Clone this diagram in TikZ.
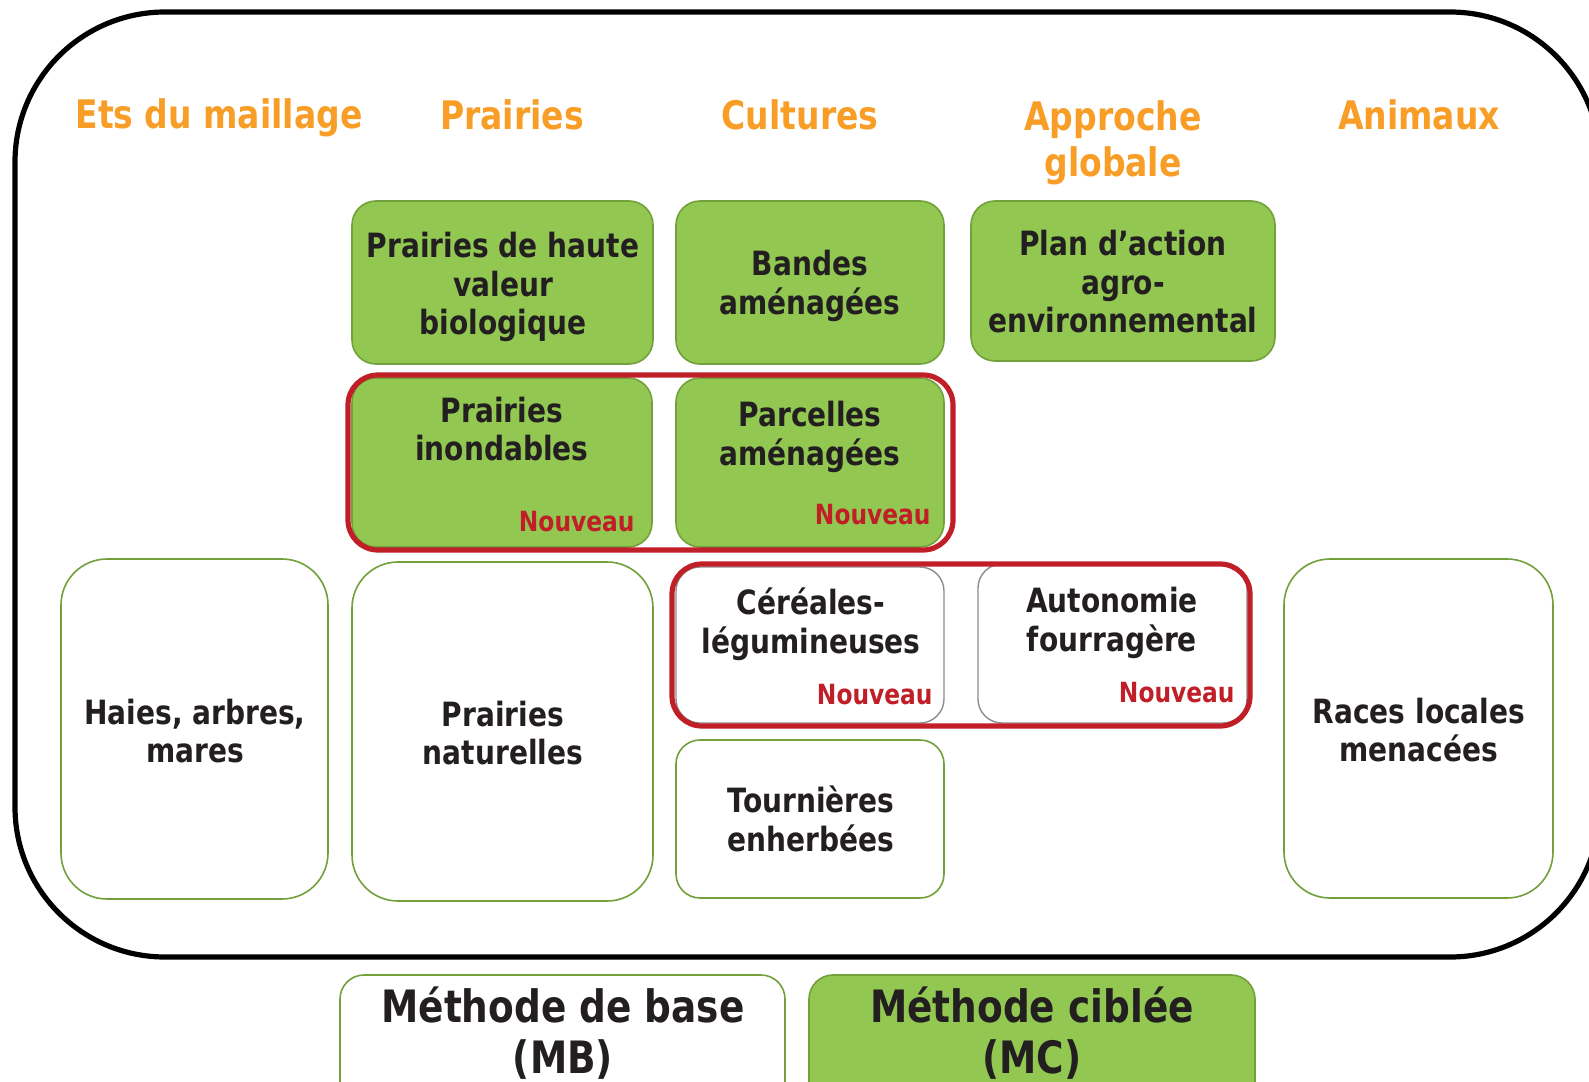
\documentclass[tikz,border=0pt]{standalone}
\usepackage{fontspec}
\setmainfont{DejaVu Sans}[FakeStretch=0.84]
\usetikzlibrary{fit}
\definecolor{gfill}{HTML}{92C852}
\definecolor{gline}{HTML}{72A03A}
\definecolor{org}{HTML}{F89D26}
\definecolor{nred}{HTML}{C01F28}
\definecolor{txt}{HTML}{231F20}
\definecolor{grayl}{HTML}{8C8C8C}
\tikzset{
  gbox/.style={draw=gline, fill=gfill, line width=0.8pt, rounded corners=12pt, inner sep=0pt},
  wbox/.style={draw=gline, fill=white, line width=0.8pt, rounded corners=12pt, inner sep=0pt},
  bigbox/.style={draw=gline, fill=white, line width=0.8pt, rounded corners=23pt, inner sep=0pt},
  graybox/.style={draw=grayl, fill=white, line width=0.7pt, rounded corners=12pt, inner sep=0pt},
  redbox/.style={draw=nred, line width=2.6pt, rounded corners=15pt, inner sep=0pt},
  hdr/.style={text=org, font=\bfseries\fontsize{19.65}{22.8}\selectfont, align=center, inner sep=0pt},
  lbl/.style={text=txt, font=\bfseries\fontsize{16.7}{19.25}\selectfont, align=center, inner sep=0pt},
  nv/.style={text=nred, font=\bfseries\fontsize{13.9}{16}\selectfont, anchor=east, inner sep=0pt},
  leg/.style={text=txt, font=\bfseries\fontsize{22.3}{25.5}\selectfont, align=center, inner sep=0pt},
}
\begin{document}
\begin{tikzpicture}[x=0.5pt,y=-0.5pt]
\useasboundingbox (0,0) rectangle (1589,1081);
\clip (0,0) rectangle (1589,1081);
\fill[white] (0,0) rectangle (1589,1081);
% outer frame
\node[fit={(15,12) (1600,957)}, draw=black, line width=2.6pt, rounded corners=75pt, inner sep=0pt] (outer) {};
% headers
\node[hdr] (h1) at (219,118) {Ets du maillage};
\node[hdr] (h2) at (512,115) {Prairies};
\node[hdr] (h3) at (800,115) {Cultures};
\node[hdr] (h4) at (1113,143) {Approche\\globale};
\node[hdr] (h5) at (1419,115) {Animaux};
% row 1
\node[gbox, fit={(352,201) (653,364)}] (b1) {};
\node[lbl] (t1) at (503,287) {Prairies de haute\\valeur\\biologique};
\node[gbox, fit={(676,201) (944,364)}] (b2) {};
\node[lbl] (t2) at (810,286) {Bandes\\aménagées};
\node[gbox, fit={(971,201) (1275,361)}] (b3) {};
\node[lbl] (t3) at (1123,282) {Plan d’action\\agro-\\environnemental};
% row 2
\node[gbox, fit={(352,378) (652,547)}] (b4) {};
\node[lbl] (t4) at (502,429) {Prairies\\inondables};
\node[nv] (n4) at (635,522) {Nouveau};
\node[gbox, fit={(676,378) (944,547)}] (b5) {};
\node[lbl] (t5) at (810,437) {Parcelles\\aménagées};
\node[nv] (n5) at (931,515) {Nouveau};
\node[redbox, fit={(348,375) (953,550)}] (r1) {};
% row 3
\node[bigbox, fit={(61,559) (328,899)}] (b6) {};
\node[lbl] (t6) at (195,731) {Haies, arbres,\\mares};
\node[bigbox, fit={(352,562) (653,901)}] (b7) {};
\node[lbl] (t7) at (503,733) {Prairies\\naturelles};
\node[graybox, fit={(676,567) (944,723)}] (b8) {};
\node[lbl] (t8) at (811,624) {Céréales-\\légumineuses};
\node[nv] (n8) at (933,695) {Nouveau};
\node[graybox, fit={(978,564) (1247,723)}] (b9) {};
\node[lbl] (t9) at (1112,623) {Autonomie\\fourragère};
\node[nv] (n9) at (1235,693) {Nouveau};
\node[redbox, fit={(672,564) (1250,726)}] (r2) {};
\node[wbox, fit={(676,740) (944,898)}] (b10) {};
\node[lbl] (t10) at (811,819) {Tournières\\enherbées};
\node[bigbox, fit={(1284,559) (1553,898)}] (b11) {};
\node[lbl] (t11) at (1419,730) {Races locales\\menacées};
% legend
\node[wbox, fit={(340,975) (785,1120)}] (mb) {};
\node[leg] (tmb) at (563,1033) {Méthode de base\\(MB)};
\node[gbox, fit={(809,975) (1255,1120)}] (mc) {};
\node[leg] (tmc) at (1032,1033) {Méthode ciblée\\(MC)};
\end{tikzpicture}
\end{document}
